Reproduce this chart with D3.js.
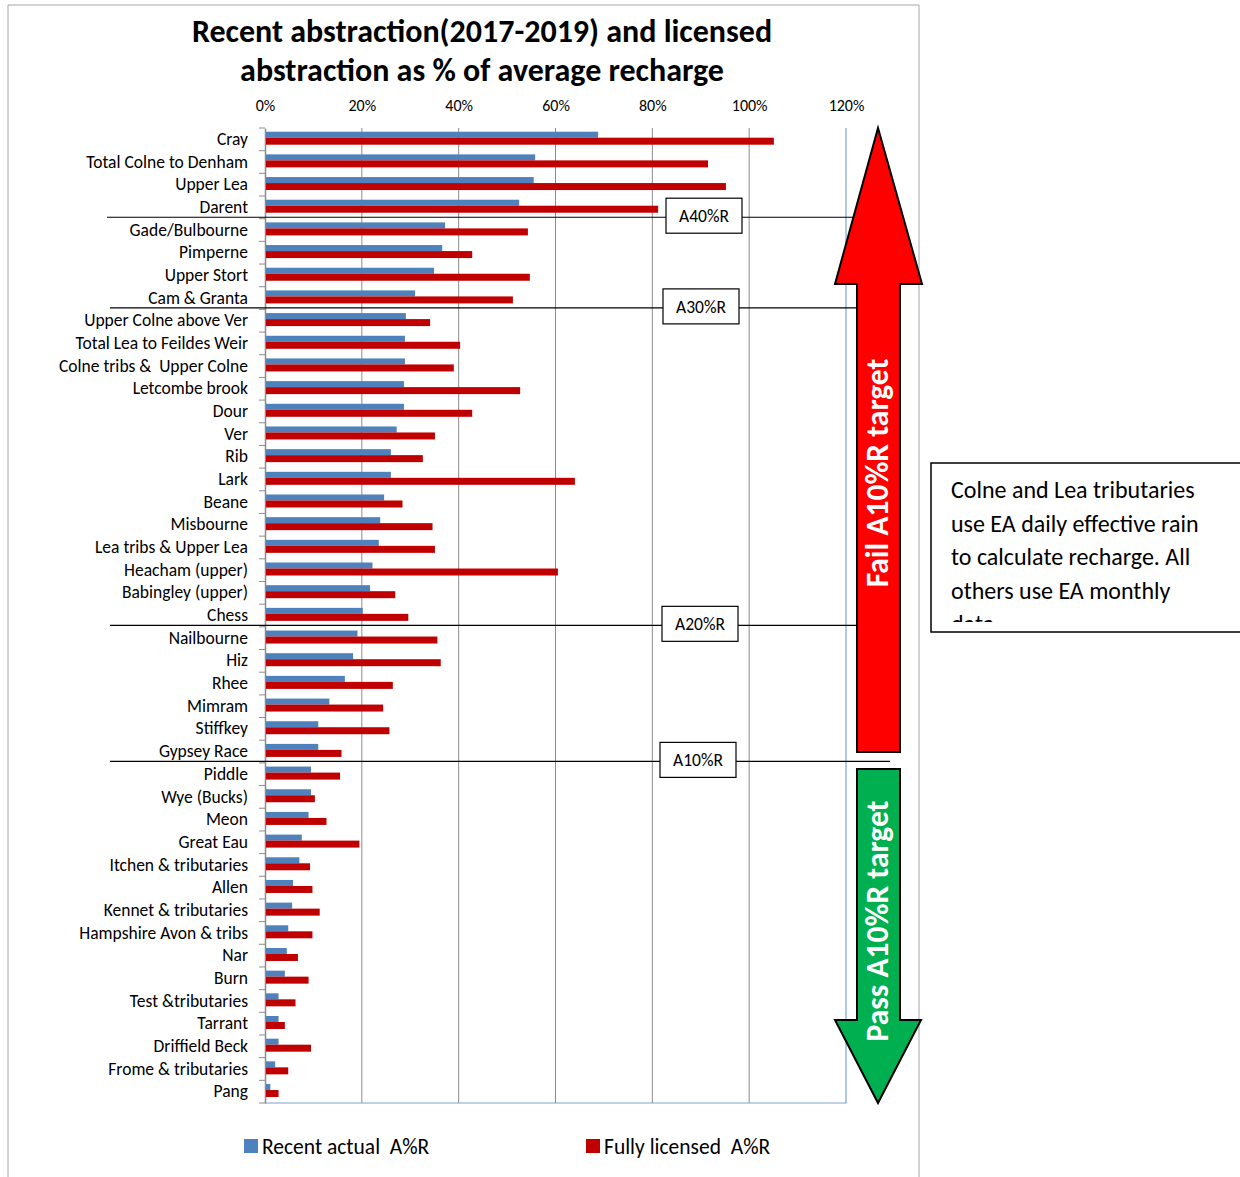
<!DOCTYPE html>
<html>
<head>
<meta charset="utf-8">
<script src="https://cdn.jsdelivr.net/npm/d3@7"></script>
<style>
  body { margin: 0; background: #fff; }
  text { font-family: Carlito, Lato, "Liberation Sans", sans-serif; }
</style>
</head>
<body>
<div id="chart"></div>
<script>
// data (values in %)
let rivers = ["Cray", "Total Colne to Denham", "Upper Lea", "Darent", "Gade/Bulbourne", "Pimperne",
  "Upper Stort", "Cam & Granta", "Upper Colne above Ver", "Total Lea to Feildes Weir",
  "Colne tribs &  Upper Colne", "Letcombe brook", "Dour", "Ver", "Rib", "Lark", "Beane",
  "Misbourne", "Lea tribs & Upper Lea", "Heacham (upper)", "Babingley (upper)", "Chess",
  "Nailbourne", "Hiz", "Rhee", "Mimram", "Stiffkey", "Gypsey Race", "Piddle", "Wye (Bucks)",
  "Meon", "Great Eau", "Itchen & tributaries", "Allen", "Kennet & tributaries",
  "Hampshire Avon & tribs", "Nar", "Burn", "Test &tributaries", "Tarrant", "Driffield Beck",
  "Frome & tributaries", "Pang"];
let recentActual = [68.8, 55.8, 55.5, 52.5, 37.2, 36.6, 34.9, 31.0, 29.1, 28.9, 28.9, 28.7, 28.7,
  27.2, 26.0, 26.0, 24.6, 23.8, 23.5, 22.2, 21.7, 20.2, 19.1, 18.2, 16.5, 13.3, 11.0, 11.0, 9.5,
  9.5, 9.0, 7.6, 7.1, 5.8, 5.6, 4.8, 4.5, 4.1, 2.8, 2.8, 2.8, 2.1, 1.1];
let fullyLicensed = [105.1, 91.5, 95.2, 81.2, 54.3, 42.8, 54.7, 51.2, 34.1, 40.3, 39.0, 52.7, 42.8,
  35.1, 32.6, 64.0, 28.4, 34.6, 35.1, 60.5, 26.9, 29.6, 35.6, 36.3, 26.4, 24.4, 25.7, 15.8, 15.5,
  10.3, 12.7, 19.5, 9.3, 9.8, 11.3, 9.8, 6.8, 9.0, 6.3, 4.1, 9.5, 4.8, 2.8];
let xTicks = [0, 20, 40, 60, 80, 100, 120];
let thresholdLabels = ["A40%R", "A30%R", "A20%R", "A10%R"];
let thresholdAfter = ["Darent", "Cam & Granta", "Chess", "Gypsey Race"];
let seriesNames = ["Recent actual  A%R", "Fully licensed  A%R"];
let noteLines = ["Colne and Lea tributaries", "use EA daily effective rain",
  "to calculate recharge. All", "others use EA monthly", "data"];

let blue = "#4F81BD", red = "#C00000";

let svg = d3.select("#chart").append("svg")
  .attr("width", 1240)
  .attr("height", 1177);

// outer chart frame
svg.append("path")
  .attr("d", "M8,1177 V5 H919 V1177")
  .attr("fill", "none")
  .attr("stroke", "#a6a6a6")
  .attr("stroke-width", 1);

// title
let title = svg.append("text")
  .attr("text-anchor", "middle")
  .style("font-weight", "bold")
  .style("font-size", "32px");
title.append("tspan").attr("x", 482).attr("y", 42).text("Recent abstraction(2017-2019) and licensed");
title.append("tspan").attr("x", 482).attr("y", 81).text("abstraction as % of average recharge");

// scales
let x = d3.scaleLinear().domain([0, 120]).range([265, 846]);
let y = d3.scaleBand().domain(rivers).range([128, 1103]).paddingInner(0);

// gridlines
svg.append("g")
  .selectAll("line")
  .data(xTicks.filter(d => d > 0 && d < 120))
  .enter()
  .append("line")
    .attr("x1", d => x(d)).attr("x2", d => x(d))
    .attr("y1", 128).attr("y2", 1103)
    .attr("stroke", "#8c8c8c");

// plot area right/bottom border
svg.append("path")
  .attr("d", "M" + x(0) + ",1103 H" + x(120) + " V128")
  .attr("fill", "none")
  .attr("stroke", "#7fa2cf")
  .attr("stroke-width", 1.2);

// top axis labels
let xAxis = svg.append("g")
  .attr("transform", "translate(0,128)")
  .call(d3.axisTop(x).tickValues(xTicks).tickFormat(d => d + "%").tickSize(0).tickPadding(17));
xAxis.select(".domain").remove();
xAxis.attr("font-size", null).attr("font-family", null);
xAxis.selectAll("text")
  .style("font-size", "16px")
  .attr("fill", "#000");

// left axis with category labels
let yAxis = svg.append("g")
  .attr("transform", "translate(" + x(0) + ",0)")
  .call(d3.axisLeft(y).tickSize(0).tickPadding(17));
yAxis.attr("font-size", null).attr("font-family", null);
yAxis.select(".domain").attr("stroke", "#8c8c8c").attr("stroke-width", 1.5);
yAxis.selectAll("text")
  .style("font-size", "17.5px")
  .style("white-space", "pre")
  .attr("fill", "#000");

// tick marks between categories
svg.append("g")
  .selectAll("line")
  .data(rivers.concat([null]))
  .enter()
  .append("line")
    .attr("x1", x(0) - 6).attr("x2", x(0))
    .attr("y1", (d, i) => 128 + i * y.bandwidth())
    .attr("y2", (d, i) => 128 + i * y.bandwidth())
    .attr("stroke", "#8c8c8c");

// bars
svg.append("g")
  .selectAll("rect")
  .data(rivers)
  .enter()
  .append("rect")
    .attr("x", x(0) + 1)
    .attr("y", d => y(d) + 3.7)
    .attr("width", (d, i) => x(recentActual[i]) - x(0) - 1)
    .attr("height", 6)
    .attr("fill", blue);

svg.append("g")
  .selectAll("rect")
  .data(rivers)
  .enter()
  .append("rect")
    .attr("x", x(0) + 1)
    .attr("y", d => y(d) + 9.7)
    .attr("width", (d, i) => x(fullyLicensed[i]) - x(0) - 1)
    .attr("height", 7)
    .attr("fill", red);

// threshold lines and boxes
let boxX = [666, 663, 662, 660];
let lineLeft = [107, 110, 110, 110];
let lineRight = [858, 858, 858, 890];
let th = svg.append("g");
thresholdLabels.forEach(function(lab, i) {
  let ly = y(thresholdAfter[i]) + y.bandwidth() - 1.5;
  th.append("line")
    .attr("x1", lineLeft[i]).attr("x2", lineRight[i])
    .attr("y1", ly).attr("y2", ly)
    .attr("stroke", "#000").attr("stroke-width", 1.1);
  th.append("rect")
    .attr("x", boxX[i]).attr("y", ly - 19)
    .attr("width", 76).attr("height", 35)
    .attr("fill", "#fff").attr("stroke", "#000").attr("stroke-width", 1.2);
  th.append("text")
    .attr("x", boxX[i] + 38).attr("y", ly + 5)
    .attr("text-anchor", "middle")
    .style("font-size", "17.5px")
    .text(lab);
});

// fail arrow (up, red)
svg.append("path")
  .attr("d", "M878,128 L922,284 L900,284 L900,752 L857,752 L857,284 L835,284 Z")
  .attr("fill", "#FF0000").attr("stroke", "#000").attr("stroke-width", 2);
svg.append("text")
  .attr("transform", "translate(888,473) rotate(-90)")
  .attr("text-anchor", "middle")
  .attr("fill", "#fff")
  .style("font-weight", "bold")
  .style("font-size", "31.5px")
  .text("Fail A10%R target");

// pass arrow (down, green)
svg.append("path")
  .attr("d", "M857,769 L900,769 L900,1020 L921,1020 L878,1103 L835,1020 L857,1020 Z")
  .attr("fill", "#00B050").attr("stroke", "#000").attr("stroke-width", 2);
svg.append("text")
  .attr("transform", "translate(888,921) rotate(-90)")
  .attr("text-anchor", "middle")
  .attr("fill", "#fff")
  .style("font-weight", "bold")
  .style("font-size", "31.5px")
  .text("Pass A10%R target");

// note box
svg.append("clipPath").attr("id", "noteclip")
  .append("rect").attr("x", 931).attr("y", 463).attr("width", 320).attr("height", 159);
svg.append("rect")
  .attr("x", 931).attr("y", 463).attr("width", 320).attr("height", 169)
  .attr("fill", "#fff").attr("stroke", "#000").attr("stroke-width", 1.5);
svg.append("g").attr("clip-path", "url(#noteclip)")
  .selectAll("text")
  .data(noteLines)
  .enter()
  .append("text")
    .attr("x", 951)
    .attr("y", (d, i) => 498 + i * 33.6)
    .style("font-size", "24px")
    .text(d => d);

// legend
let legend = svg.append("g");
[blue, red].forEach(function(c, i) {
  let lx = [244, 586][i];
  legend.append("rect")
    .attr("x", lx).attr("y", 1139).attr("width", 14).attr("height", 14)
    .attr("fill", c);
  legend.append("text")
    .attr("x", lx + 18).attr("y", 1154)
    .style("font-size", "21.5px")
    .style("white-space", "pre")
    .text(seriesNames[i]);
});
</script>
</body>
</html>
